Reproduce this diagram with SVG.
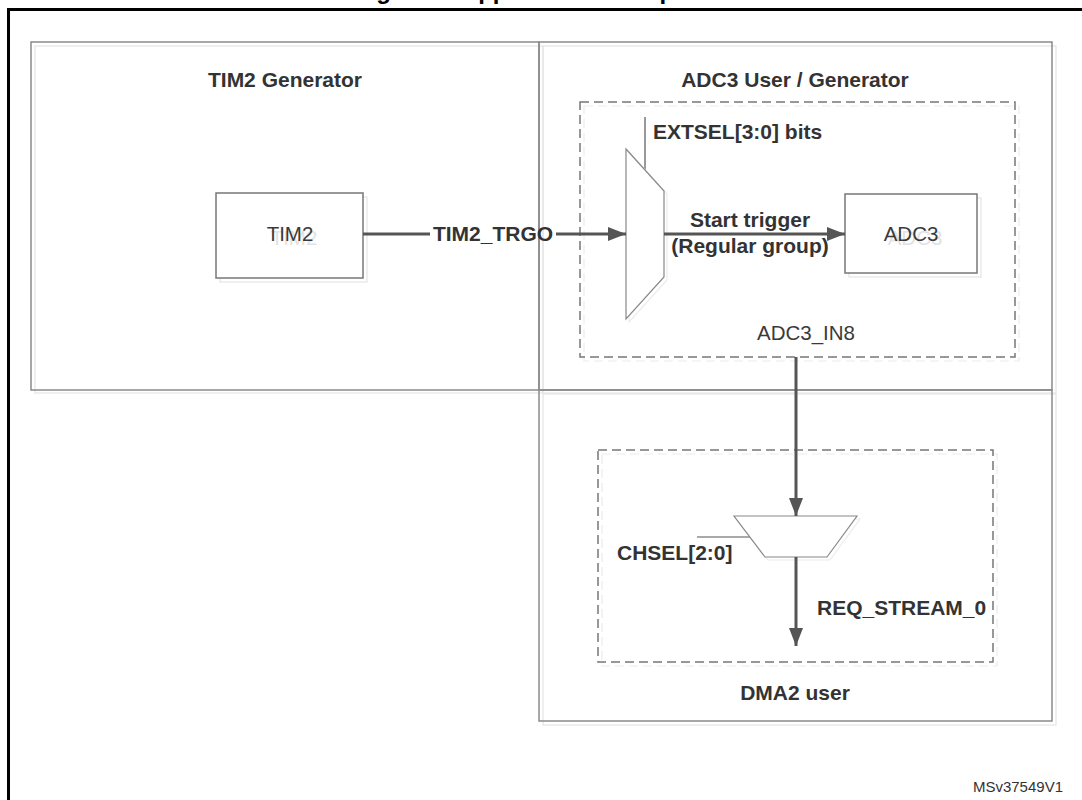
<svg xmlns="http://www.w3.org/2000/svg" width="1082" height="800" viewBox="0 0 1082 800">
<defs>
<marker id="arr" markerWidth="18" markerHeight="14" refX="18" refY="7" orient="auto" markerUnits="userSpaceOnUse">
<path d="M0,0 L18,7 L0,14 Z" fill="#555"/>
</marker>
<style>
.frame{fill:none;stroke:#000;stroke-width:3}
.region{fill:none;stroke:#8a8a8a;stroke-width:1.5}
.shadow{fill:none;stroke:#e4e4e4;stroke-width:1.2}
.dash{fill:none;stroke:#777;stroke-width:1.5;stroke-dasharray:9,5}
.dshadow{fill:none;stroke:#ececec;stroke-width:1.2;stroke-dasharray:9,5}
.box{fill:#fff;stroke:#777;stroke-width:1.5}
.mux{fill:#fff;stroke:#888;stroke-width:1.2}
.thin{fill:none;stroke:#555;stroke-width:1.2}
.conn{fill:none;stroke:#555;stroke-width:3}
.b{font-family:"Liberation Sans",Arial,sans-serif;font-weight:bold;font-size:21px;fill:#333}
.n{font-family:"Liberation Sans",Arial,sans-serif;font-size:20.5px;fill:#3a3a3a}
.ghost{font-family:"Liberation Sans",Arial,sans-serif;font-size:20.5px;fill:#e2e2e2}
.small{font-family:"Liberation Sans",Arial,sans-serif;font-size:15px;fill:#333}
.title{font-family:"Liberation Sans",Arial,sans-serif;font-weight:bold;font-size:24px;fill:#000}
</style>
</defs>
<rect width="1082" height="800" fill="#fff"/>
<text class="title" x="355" y="-1">Figure 3. Application example</text>
<path class="frame" d="M8.5,800 V9.5 H1082"/>

<g id="tim2-generator">
<rect class="shadow" x="35" y="46" width="508" height="347"/>
<rect class="region" x="31" y="42" width="508" height="348"/>
<text class="b" x="285" y="87" text-anchor="middle">TIM2 Generator</text>
</g>
<g id="adc3-user-generator">
<rect class="shadow" x="543" y="46" width="513" height="347"/>
<rect class="region" x="539" y="42" width="513" height="348"/>
<text class="b" x="795" y="87" text-anchor="middle">ADC3 User / Generator</text>
<rect class="dshadow" x="584" y="106" width="435" height="255"/>
<rect class="dash" x="580" y="102" width="435" height="255"/>
<text class="n" x="806" y="340" text-anchor="middle">ADC3_IN8</text>
</g>
<g id="dma2-user">
<rect class="shadow" x="543" y="394" width="513" height="331"/>
<rect class="region" x="539" y="390" width="513" height="331"/>
<rect class="dshadow" x="602" y="454" width="395" height="212"/>
<rect class="dash" x="598" y="450" width="395" height="212"/>
<text class="b" x="795" y="700" text-anchor="middle">DMA2 user</text>
</g>

<g id="tim2">
<rect class="shadow" x="220" y="197" width="147" height="85"/>
<rect class="box" x="216" y="193" width="147" height="85"/>
<text class="ghost" x="294" y="245" text-anchor="middle">TIM2</text>
<text class="n" x="290" y="241" text-anchor="middle">TIM2</text>
</g>
<g id="adc3">
<rect class="shadow" x="849" y="198" width="132" height="79"/>
<rect class="box" x="845" y="194" width="132" height="79"/>
<text class="ghost" x="915" y="245" text-anchor="middle">ADC3</text>
<text class="n" x="911" y="241" text-anchor="middle">ADC3</text>
</g>
<g id="extsel-mux">
<line class="thin" x1="645" y1="117" x2="645" y2="170"/>
<polygon points="629,152 667,194 667,280 629,322" fill="none" stroke="#ececec" stroke-width="1.2"/>
<polygon class="mux" points="626,149 664,191 664,277 626,319"/>
<text class="b" x="653" y="139">EXTSEL[3:0] bits</text>
</g>
<g id="chsel-mux">
<line class="thin" x1="697" y1="537" x2="750" y2="537"/>
<polygon points="737,519 860,519 830,560 768,560" fill="none" stroke="#ececec" stroke-width="1.2"/>
<polygon class="mux" points="734,516 857,516 827,557 765,557"/>
<text class="b" x="617" y="560">CHSEL[2:0]</text>
</g>

<g id="connectors">
<line class="conn" x1="363" y1="234" x2="430" y2="234"/>
<line class="conn" x1="556" y1="234" x2="626" y2="234" marker-end="url(#arr)"/>
<text class="b" x="493" y="241" text-anchor="middle">TIM2_TRGO</text>
<line class="conn" x1="664" y1="234" x2="845" y2="234" marker-end="url(#arr)"/>
<text class="b" x="750" y="227" text-anchor="middle">Start trigger</text>
<text class="b" x="750" y="253" text-anchor="middle">(Regular group)</text>
<line class="conn" x1="796" y1="357" x2="796" y2="516" marker-end="url(#arr)"/>
<line class="conn" x1="796" y1="557" x2="796" y2="646" marker-end="url(#arr)"/>
<text class="b" x="817" y="615">REQ_STREAM_0</text>
</g>
<text class="small" x="1063" y="792" text-anchor="end">MSv37549V1</text>
</svg>
